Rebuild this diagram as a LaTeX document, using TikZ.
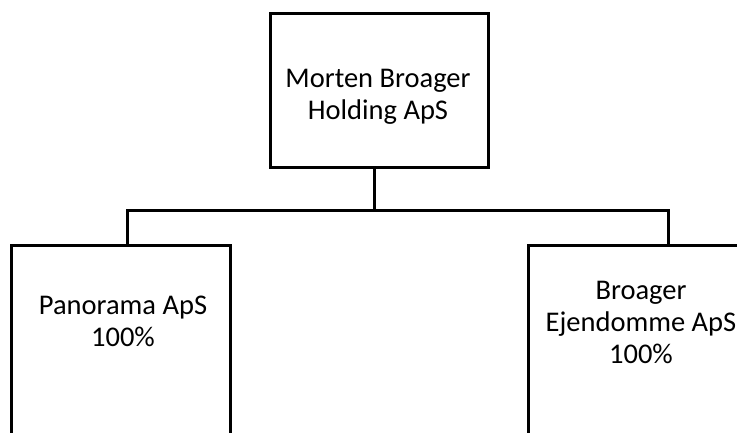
\documentclass[tikz,border=0pt]{standalone}
\usepackage{fontspec}
\setmainfont{Carlito}
\begin{document}
\begin{tikzpicture}[x=1pt,y=-1pt,
  orgbox/.style={draw=black,line width=3pt,fill=white,inner sep=0pt},
  orgtext/.style={align=center,inner sep=0pt,font=\fontsize{28.5}{32}\selectfont},
  link/.style={draw=black,line width=3pt,line join=miter}]
\useasboundingbox (0,0) rectangle (737,432);
\clip (0,0) rectangle (737,432);
% boxes
\node[orgbox,minimum width=218pt,minimum height=154pt] (top) at (379,90) {};
\node[orgbox,minimum width=219pt,minimum height=240pt] (lft) at (120.5,365) {};
\node[orgbox,minimum width=224pt,minimum height=240pt] (rgt) at (640,365) {};
% texts
\node[orgtext] (ttop) at (378,97) {Morten Broager\\Holding ApS};
\node[orgtext] (tlft) at (123,321) {Panorama ApS\\100\%};
\node[orgtext] (trgt) at (641,322) {Broager\\Ejendomme ApS\\100\%};
% connectors
\coordinate (jm) at (374,210);
\coordinate (jl) at (127,210);
\coordinate (jr) at (668,210);
\draw[link] (top.south -| jm) -- (jm);
\draw[link] (jl |- lft.north) -- (jl) -- (jr) -- (jr |- rgt.north);
\end{tikzpicture}
\end{document}
